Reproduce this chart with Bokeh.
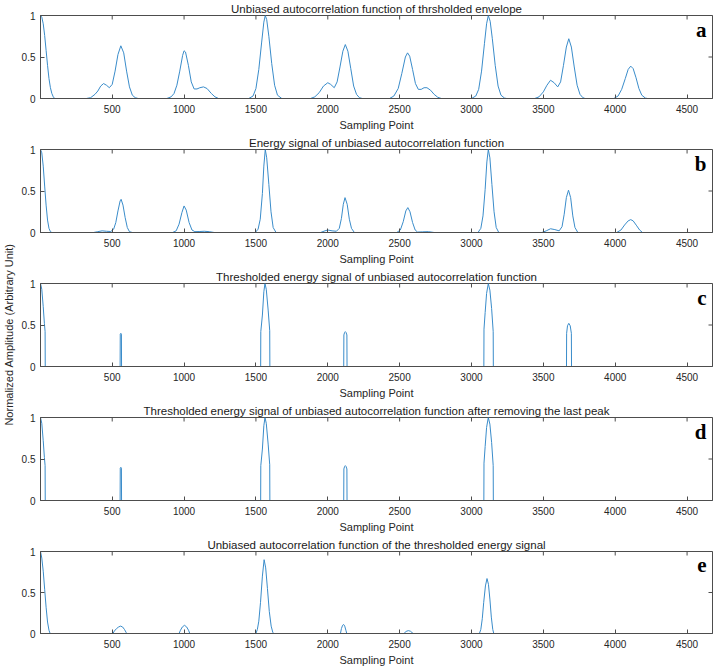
from math import pi
from bokeh.plotting import figure
from bokeh.models import FixedTicker, Label, Range1d
from bokeh.layouts import column, row
from bokeh.embed import file_html
from bokeh.resources import INLINE

# ---------------- data ----------------
X_START, X_END = 1, 4677
x_ticks = [500, 1000, 1500, 2000, 2500, 3000, 3500, 4000, 4500]
y_ticks = [0, 0.5, 1]
y_tick_labels = {0: "0", 0.5: "0.5", 1: "1"}
x_label = "Sampling Point"
y_label = "Normalized Amplitude (Arbitrary Unit)"

titles = [
    "Unbiased autocorrelation function of thrsholded envelope",
    "Energy signal of unbiased autocorrelation function",
    "Thresholded energy signal of unbiased autocorrelation function",
    "Thresholded energy signal of unbiased autocorrelation function after removing the last peak",
    "Unbiased autocorrelation function of the thresholded energy signal",
]
letters = ["a", "b", "c", "d", "e"]

# (sampling point, normalized amplitude)
panel_a = [
    (1, 1.0), (10, 0.98), (20, 0.90), (30, 0.76), (40, 0.58), (50, 0.40), (60, 0.24), (70, 0.13), (80, 0.06), (90, 0.02), (100, 0.0),
    (320, 0), (350, 0.01), (380, 0.05), (400, 0.09), (420, 0.15), (440, 0.18), (460, 0.16), (480, 0.13), (500, 0.17), (520, 0.33),
    (540, 0.53), (560, 0.635), (580, 0.55), (600, 0.33), (620, 0.14), (640, 0.04), (660, 0.01), (680, 0),
    (880, 0), (910, 0.02), (930, 0.06), (950, 0.16), (970, 0.33), (990, 0.52), (1000, 0.575), (1010, 0.56), (1030, 0.40), (1050, 0.20),
    (1070, 0.115), (1090, 0.115), (1110, 0.13), (1135, 0.14), (1160, 0.12), (1190, 0.06), (1215, 0.02), (1240, 0),
    (1450, 0), (1480, 0.03), (1500, 0.12), (1520, 0.35), (1540, 0.68), (1555, 0.92), (1565, 1.0), (1575, 0.95), (1590, 0.75),
    (1610, 0.42), (1630, 0.16), (1650, 0.04), (1680, 0),
    (1880, 0), (1910, 0.02), (1940, 0.07), (1970, 0.15), (2000, 0.19), (2020, 0.17), (2045, 0.13), (2065, 0.20), (2085, 0.38),
    (2105, 0.57), (2122, 0.65), (2140, 0.57), (2160, 0.36), (2180, 0.15), (2200, 0.05), (2220, 0.01), (2240, 0),
    (2430, 0), (2460, 0.03), (2490, 0.12), (2515, 0.30), (2540, 0.50), (2555, 0.55), (2570, 0.51), (2590, 0.35), (2610, 0.18),
    (2630, 0.11), (2650, 0.11), (2670, 0.13), (2690, 0.13), (2715, 0.10), (2740, 0.05), (2765, 0.015), (2790, 0),
    (3000, 0), (3030, 0.03), (3050, 0.11), (3070, 0.33), (3090, 0.66), (3105, 0.90), (3117, 1.0), (3130, 0.93), (3145, 0.72),
    (3165, 0.40), (3185, 0.15), (3205, 0.04), (3230, 0.005), (3245, 0),
    (3440, 0), (3470, 0.02), (3500, 0.08), (3525, 0.16), (3550, 0.22), (3575, 0.19), (3600, 0.14), (3620, 0.20), (3640, 0.40),
    (3660, 0.62), (3677, 0.72), (3695, 0.62), (3715, 0.38), (3735, 0.16), (3755, 0.05), (3775, 0.01), (3790, 0),
    (3990, 0), (4020, 0.03), (4045, 0.11), (4070, 0.24), (4090, 0.35), (4108, 0.39), (4125, 0.36), (4145, 0.25), (4165, 0.12),
    (4185, 0.04), (4210, 0.005), (4225, 0), (4677, 0),
]

panel_b = [
    (1, 1.0), (10, 0.96), (20, 0.80), (30, 0.56), (40, 0.33), (50, 0.15), (60, 0.05), (70, 0.01), (80, 0),
    (370, 0), (400, 0.01), (430, 0.02), (460, 0.015), (490, 0.012), (510, 0.04), (525, 0.12), (540, 0.26), (555, 0.38), (562, 0.40),
    (575, 0.33), (590, 0.18), (605, 0.06), (620, 0.01), (640, 0),
    (920, 0), (945, 0.02), (965, 0.10), (985, 0.24), (1000, 0.32), (1015, 0.27), (1035, 0.12), (1055, 0.03), (1075, 0.01),
    (1110, 0.012), (1140, 0.015), (1175, 0.01), (1210, 0),
    (1495, 0), (1515, 0.04), (1530, 0.16), (1545, 0.47), (1555, 0.80), (1565, 1.0), (1575, 0.90), (1590, 0.58), (1605, 0.25),
    (1620, 0.06), (1640, 0),
    (1950, 0), (1980, 0.02), (2000, 0.03), (2030, 0.02), (2060, 0.015), (2080, 0.05), (2095, 0.17), (2108, 0.34), (2120, 0.42),
    (2135, 0.34), (2150, 0.16), (2165, 0.05), (2185, 0),
    (2480, 0), (2505, 0.03), (2525, 0.13), (2543, 0.26), (2557, 0.30), (2572, 0.25), (2590, 0.12), (2608, 0.03), (2625, 0.005),
    (2660, 0.008), (2700, 0.01), (2740, 0),
    (3045, 0), (3065, 0.05), (3080, 0.20), (3095, 0.52), (3107, 0.85), (3117, 1.0), (3128, 0.90), (3142, 0.58), (3157, 0.25),
    (3172, 0.06), (3190, 0),
    (3490, 0), (3520, 0.02), (3550, 0.045), (3580, 0.035), (3610, 0.02), (3630, 0.07), (3645, 0.22), (3660, 0.42), (3675, 0.51),
    (3690, 0.42), (3705, 0.20), (3720, 0.06), (3740, 0),
    (4010, 0), (4040, 0.03), (4065, 0.09), (4090, 0.14), (4108, 0.155), (4125, 0.14), (4150, 0.08), (4170, 0.03), (4190, 0),
    (4677, 0),
]

panel_c = [
    (1, 1.0), (10, 0.93), (20, 0.72), (28, 0.52), (33, 0.42), (34, 0),
    (555, 0), (556, 0.39), (560, 0.40), (564, 0.39), (565, 0),
    (1533, 0), (1534, 0.42), (1545, 0.62), (1555, 0.90), (1563, 1.0), (1572, 0.93), (1585, 0.68), (1596, 0.43), (1597, 0),
    (2111, 0), (2112, 0.38), (2117, 0.41), (2122, 0.42), (2127, 0.41), (2133, 0.38), (2134, 0),
    (3086, 0), (3087, 0.45), (3095, 0.65), (3105, 0.88), (3117, 1.0), (3128, 0.92), (3140, 0.70), (3151, 0.42), (3152, 0),
    (3661, 0), (3662, 0.40), (3668, 0.49), (3677, 0.52), (3687, 0.49), (3695, 0.40), (3696, 0),
    (4677, 0),
]

panel_d = [
    (1, 1.0), (10, 0.93), (20, 0.72), (28, 0.52), (33, 0.42), (34, 0),
    (555, 0), (556, 0.39), (560, 0.40), (564, 0.39), (565, 0),
    (1533, 0), (1534, 0.42), (1545, 0.62), (1555, 0.90), (1563, 1.0), (1572, 0.93), (1585, 0.68), (1596, 0.43), (1597, 0),
    (2111, 0), (2112, 0.38), (2117, 0.41), (2122, 0.42), (2127, 0.41), (2133, 0.38), (2134, 0),
    (3086, 0), (3087, 0.45), (3095, 0.65), (3105, 0.88), (3117, 1.0), (3128, 0.92), (3140, 0.70), (3151, 0.42), (3152, 0),
    (4677, 0),
]

panel_e = [
    (1, 1.0), (10, 0.92), (20, 0.76), (30, 0.54), (40, 0.32), (50, 0.14), (60, 0.04), (68, 0),
    (505, 0), (515, 0.03), (530, 0.06), (545, 0.08), (558, 0.09), (572, 0.08), (585, 0.05), (598, 0.01), (602, 0),
    (965, 0), (975, 0.04), (988, 0.08), (1003, 0.10), (1018, 0.08), (1031, 0.04), (1040, 0),
    (1500, 0), (1510, 0.05), (1520, 0.15), (1532, 0.38), (1545, 0.70), (1557, 0.90), (1568, 0.80), (1580, 0.55), (1593, 0.27),
    (1606, 0.09), (1618, 0.01), (1625, 0),
    (2088, 0), (2095, 0.06), (2103, 0.10), (2110, 0.11), (2118, 0.09), (2126, 0.04), (2132, 0),
    (2530, 0), (2545, 0.025), (2560, 0.035), (2575, 0.028), (2594, 0),
    (3055, 0), (3065, 0.05), (3075, 0.18), (3085, 0.38), (3097, 0.58), (3108, 0.67), (3118, 0.60), (3128, 0.42), (3138, 0.20),
    (3148, 0.05), (3155, 0),
    (4677, 0),
]

panels = [panel_a, panel_b, panel_c, panel_d, panel_e]

# ---------------- style / layout ----------------
FONT = "Liberation Sans"
SERIF = "Liberation Serif"
LINE = "#3a8cca"
AXC = "#4d4d4d"
TXT = "#262626"

LABEL_W = 16
FIG_W = 698
FIG_HEIGHTS = [134, 134, 134, 134, 132]
BOTTOM_BORDERS = [36, 36, 36, 36, 34]
TOP_BORDER = 15


def style_axis(ax, ticks):
    ax.ticker = FixedTicker(ticks=ticks)
    ax.major_tick_in = 4
    ax.major_tick_out = 0
    ax.minor_tick_in = 0
    ax.minor_tick_out = 0
    ax.axis_line_color = AXC
    ax.axis_line_width = 1
    ax.major_tick_line_color = AXC
    ax.major_label_text_font = FONT
    ax.major_label_text_color = TXT
    ax.major_label_text_font_size = "10px"


def make_panel(title, pairs, letter, height, bottom):
    xs = [px for px, _ in pairs]
    ys = [py for _, py in pairs]
    p = figure(
        width=FIG_W, height=height,
        x_range=Range1d(X_START, X_END), y_range=Range1d(0, 1),
        output_backend="svg", toolbar_location=None,
        min_border_left=24, min_border_right=2,
        min_border_top=TOP_BORDER, min_border_bottom=bottom,
    )
    p.grid.visible = False
    p.outline_line_color = AXC
    p.outline_line_width = 1
    p.background_fill_color = "white"
    p.border_fill_color = "white"

    p.title.text = title
    p.title.align = "center"
    p.title.text_font = FONT
    p.title.text_font_size = "11.5px"
    p.title.text_font_style = "normal"
    p.title.text_color = "#1a1a1a"
    p.title.standoff = 1

    style_axis(p.xaxis[0], x_ticks)
    p.xaxis[0].major_label_standoff = 6
    p.xaxis[0].axis_label = x_label
    p.xaxis[0].axis_label_text_font = FONT
    p.xaxis[0].axis_label_text_font_size = "11px"
    p.xaxis[0].axis_label_text_font_style = "normal"
    p.xaxis[0].axis_label_text_color = TXT
    p.xaxis[0].axis_label_standoff = 3

    style_axis(p.yaxis[0], y_ticks)
    p.yaxis[0].major_label_standoff = 5
    p.yaxis[0].major_label_overrides = y_tick_labels

    # inward tick marks on the top and right edges of the box (clipped to the frame)
    p.scatter(x=x_ticks, y=[1] * len(x_ticks), marker="dash", angle=pi / 2,
              size=8, line_color=AXC, line_width=1)
    p.scatter(x=[X_END] * len(y_ticks), y=y_ticks, marker="dash",
              size=8, line_color=AXC, line_width=1)

    p.line(xs, ys, line_color=LINE, line_width=1)

    p.add_layout(Label(
        x=X_END - 42, y=0.83, text=letter,
        text_font=SERIF, text_font_style="bold", text_font_size="21px",
        text_color="black", text_align="right", text_baseline="alphabetic",
    ))
    return p


figs = [make_panel(t, d, l, h, b)
        for t, d, l, h, b in zip(titles, panels, letters, FIG_HEIGHTS, BOTTOM_BORDERS)]

lab = figure(
    width=LABEL_W, height=sum(FIG_HEIGHTS),
    x_range=Range1d(0, 1), y_range=Range1d(0, 1),
    output_backend="svg", toolbar_location=None,
    min_border_left=0, min_border_right=0, min_border_top=0, min_border_bottom=0,
)
lab.axis.visible = False
lab.grid.visible = False
lab.outline_line_color = None
lab.background_fill_color = "white"
lab.border_fill_color = "white"
lab.add_layout(Label(
    x=0.5, y=0.5, text=y_label, angle=pi / 2,
    text_font=FONT, text_font_size="11px", text_color=TXT,
    text_align="center", text_baseline="middle",
))

layout = row(lab, column(*figs, spacing=0), spacing=0)

with open("out.html", "w") as f:
    f.write(file_html(layout, INLINE))
